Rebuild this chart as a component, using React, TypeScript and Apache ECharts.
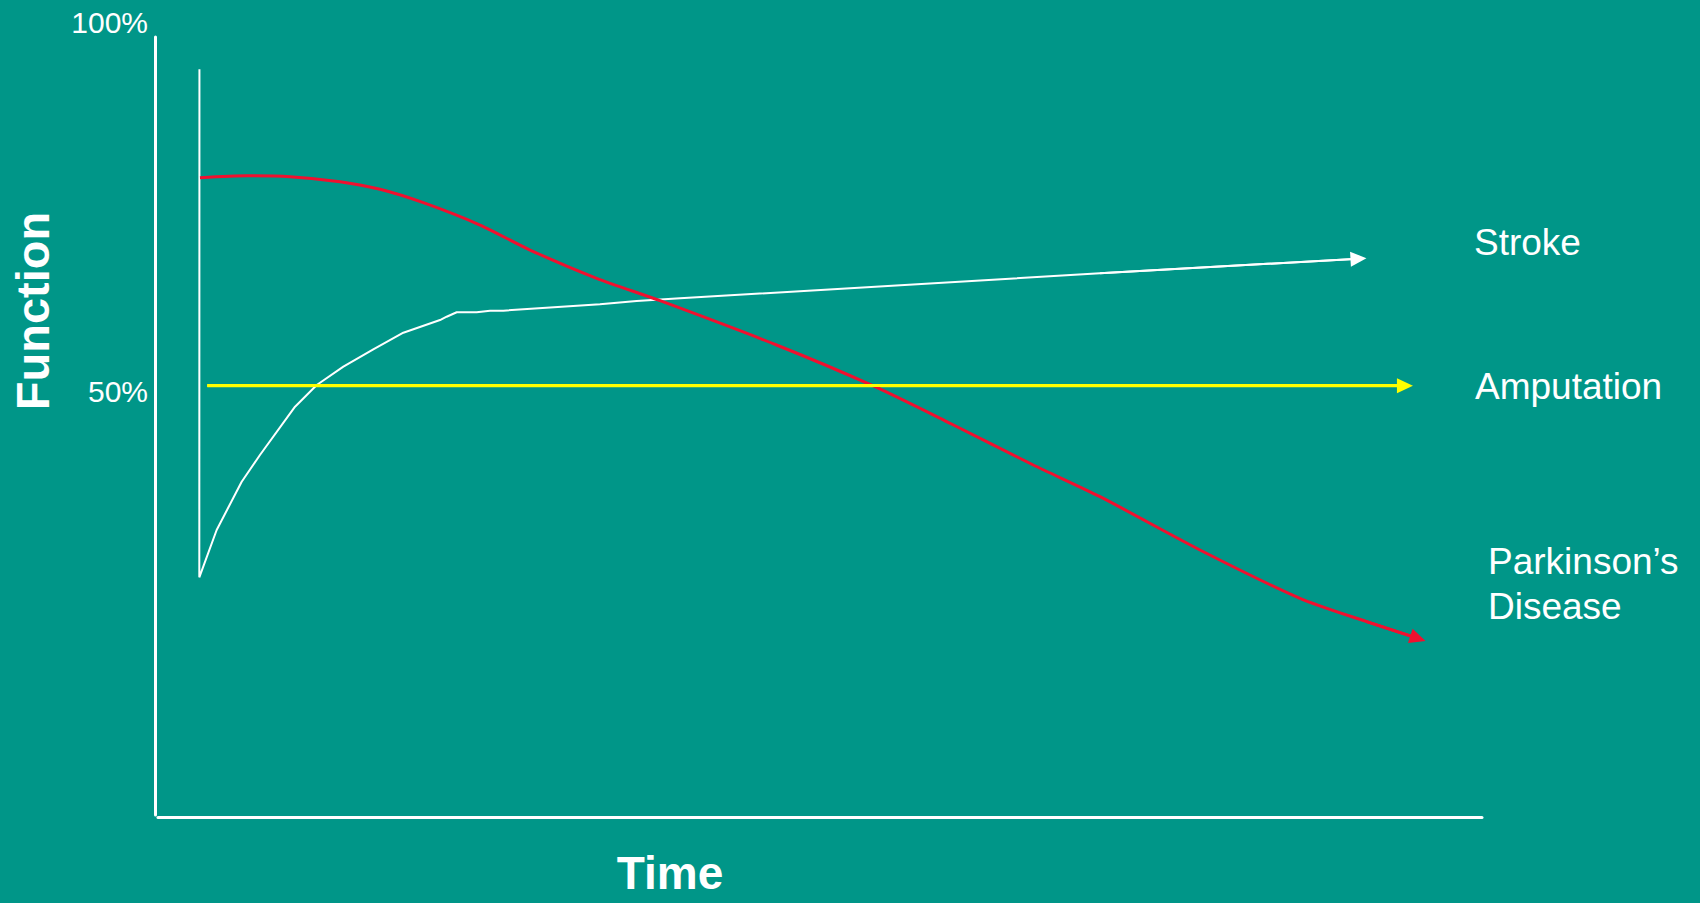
import { useEffect, useRef } from 'react';
import * as echarts from 'echarts';

const FONT = 'Arial, "Liberation Sans", Helvetica, sans-serif';
const BG = '#009688';

// Function (% of full) plotted against time (0–100, arbitrary units)
const STROKE_T = [3.13, 3.12, 4.43, 6.32, 7.7, 10.35, 11.99, 14.0, 16.26, 18.53, 21.3, 21.8, 22.56, 24.07, 25.08, 26.08, 33.38, 36.15, 39.43, 71.15, 90.67];
const STROKE_F = [93.65, 24.72, 31.14, 37.69, 41.32, 47.87, 50.81, 53.3, 55.66, 57.91, 59.63, 60.08, 60.68, 60.68, 60.9, 60.9, 61.76, 62.21, 62.58, 65.97, 67.95];

const AMP_T = [3.72, 94.18];
const AMP_F = [50.72, 50.72];

const PD_T = [3.17, 6.7, 9.97, 13.75, 16.77, 20.04, 24.32, 28.1, 33.13, 37.92, 46.72, 54.03, 59.82, 66.11, 71.15, 78.7, 86.25, 91.29, 95.16];
const PD_F = [78.94, 79.21, 79.08, 78.4, 77.37, 75.55, 72.52, 69.13, 65.29, 62.25, 56.24, 50.68, 45.62, 39.96, 35.66, 28.43, 21.87, 18.7, 16.43];

const Y_TICKS = [50, 100];

const SERIES_LABELS = ['Stroke', 'Amputation', 'Parkinson’s\nDisease'];

const zip = (t: number[], f: number[]) => t.map((v, i) => [v, f[i]]);

// Arrowhead drawn on the final segment of a curve
function arrowHead(t: number[], f: number[], color: string, width: number) {
  const n = t.length;
  return {
    silent: true,
    symbol: ['none', 'triangle'],
    symbolSize: [15, 16],
    label: { show: false },
    emphasis: { disabled: true },
    itemStyle: { color },
    lineStyle: { color, width, type: 'solid' },
    data: [[{ coord: [t[n - 2], f[n - 2]] }, { coord: [t[n - 1], f[n - 1]] }]],
  };
}

export default function App() {
  const ref = useRef<HTMLDivElement>(null);

  useEffect(() => {
    if (!ref.current) return;
    document.body.style.margin = '0';
    const chart = echarts.init(ref.current, null, { renderer: 'svg' });

    const lineText = (
      text: string,
      x: number,
      y: number,
      size: number,
      bold = false,
      extra: any = {},
      lineHeight = 45
    ) => ({
      type: 'text',
      x,
      y,
      silent: true,
      ...extra,
      style: {
        text,
        fill: '#ffffff',
        font: `${bold ? 'bold ' : ''}${size}px ${FONT}`,
        align: extra.align || 'left',
        textAlign: extra.align || 'left',
        verticalAlign: 'middle',
        textVerticalAlign: 'middle',
        lineHeight,
      },
    });

    chart.setOption({
      animation: false,
      backgroundColor: BG,
      textStyle: { fontFamily: FONT },
      tooltip: { show: false },
      grid: [
        { left: 158, right: 218, top: 22.5, bottom: 143.5 },
        { left: 155, right: 218, top: 37, bottom: 88 },
      ],
      xAxis: [
        {
          type: 'value',
          gridIndex: 0,
          min: 0,
          max: 100,
          offset: 58,
          axisLine: { show: true, onZero: false, lineStyle: { color: '#ffffff', width: 3 } },
          axisTick: { show: false },
          axisLabel: { show: false },
          splitLine: { show: false },
        },
        { type: 'value', gridIndex: 1, min: 0, max: 1, show: false },
      ],
      yAxis: [
        {
          type: 'value',
          gridIndex: 0,
          min: 0,
          max: 100,
          interval: 50,
          axisLine: { show: false },
          axisTick: { show: false },
          splitLine: { show: false },
          axisLabel: {
            color: '#ffffff',
            fontSize: 30,
            fontFamily: FONT,
            margin: 10,
            formatter: (v: number) => (Y_TICKS.includes(v) ? `${v}%` : ''),
          },
        },
        {
          type: 'value',
          gridIndex: 1,
          min: 0,
          max: 1,
          axisLine: { show: true, onZero: false, lineStyle: { color: '#ffffff', width: 3 } },
          axisTick: { show: false },
          axisLabel: { show: false },
          splitLine: { show: false },
        },
      ],
      series: [
        {
          name: 'Amputation',
          type: 'line',
          xAxisIndex: 0,
          yAxisIndex: 0,
          data: zip(AMP_T, AMP_F),
          symbol: 'none',
          silent: true,
          lineStyle: { color: '#ffff00', width: 3 },
          itemStyle: { color: '#ffff00' },
          markLine: arrowHead(AMP_T, AMP_F, '#ffff00', 3),
          z: 2,
        },
        {
          name: 'Stroke',
          type: 'line',
          xAxisIndex: 0,
          yAxisIndex: 0,
          data: zip(STROKE_T, STROKE_F),
          symbol: 'none',
          silent: true,
          lineStyle: { color: '#ffffff', width: 2 },
          itemStyle: { color: '#ffffff' },
          markLine: arrowHead(STROKE_T, STROKE_F, '#ffffff', 2),
          z: 3,
        },
        {
          name: 'Parkinson’s Disease',
          type: 'line',
          xAxisIndex: 0,
          yAxisIndex: 0,
          data: zip(PD_T, PD_F),
          symbol: 'none',
          smooth: 0.25,
          silent: true,
          lineStyle: { color: '#f0102f', width: 3 },
          itemStyle: { color: '#f0102f' },
          markLine: arrowHead(PD_T, PD_F, '#f0102f', 3),
          z: 4,
        },
      ],
      graphic: [
        lineText(SERIES_LABELS[0], 1474, 242, 37),
        lineText(SERIES_LABELS[1], 1475, 386, 37),
        lineText(SERIES_LABELS[2], 1488, 584, 37),
        lineText('Function', 32, 311, 47, true, { rotation: Math.PI / 2, align: 'center' }, 40),
        lineText('Time', 670, 873, 46, true, { align: 'center' }, 36),
      ],
    });

    return () => chart.dispose();
  }, []);

  return (
    <div style={{ position: 'fixed', left: 0, top: 0, width: 1700, height: 903, background: BG }}>
      <div ref={ref} style={{ width: 1700, height: 903 }} />
    </div>
  );
}
